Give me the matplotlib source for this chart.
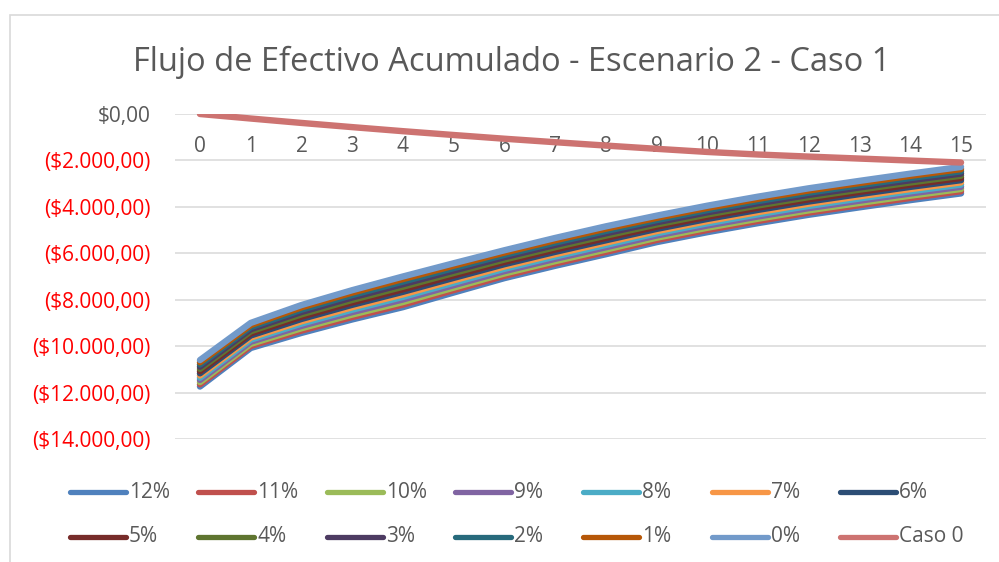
import matplotlib
matplotlib.use("Agg")
import matplotlib.pyplot as plt
from matplotlib.lines import Line2D
from matplotlib.patches import Rectangle
from matplotlib.ticker import FuncFormatter

plt.rcParams['font.family'] = ['Open Sans', 'DejaVu Sans']

# años del proyecto
years = list(range(16))

# flujo acumulado por tasa de descuento
tasa_12 = [-11740, -10080, -9430, -8850, -8320, -7690, -7070, -6540, -6040, -5520, -5090, -4700, -4340, -4020, -3710, -3420]
tasa_11 = [-11645, -9990, -9330, -8745, -8210, -7585, -6970, -6440, -5940, -5425, -4995, -4605, -4245, -3925, -3615, -3325]
tasa_10 = [-11550, -9900, -9230, -8640, -8100, -7480, -6870, -6340, -5840, -5330, -4900, -4510, -4150, -3830, -3520, -3230]
tasa_9 = [-11455, -9810, -9130, -8535, -7990, -7375, -6770, -6240, -5740, -5235, -4805, -4415, -4055, -3735, -3425, -3135]
tasa_8 = [-11360, -9720, -9030, -8430, -7880, -7270, -6670, -6140, -5640, -5140, -4710, -4320, -3960, -3640, -3330, -3040]
tasa_7 = [-11265, -9630, -8930, -8325, -7770, -7165, -6570, -6040, -5540, -5045, -4615, -4225, -3865, -3545, -3235, -2945]
tasa_6 = [-11170, -9540, -8830, -8220, -7660, -7060, -6470, -5940, -5440, -4950, -4520, -4130, -3770, -3450, -3140, -2850]
tasa_5 = [-11075, -9450, -8730, -8115, -7550, -6955, -6370, -5840, -5340, -4855, -4425, -4035, -3675, -3355, -3045, -2755]
tasa_4 = [-10980, -9360, -8630, -8010, -7440, -6850, -6270, -5740, -5240, -4760, -4330, -3940, -3580, -3260, -2950, -2660]
tasa_3 = [-10885, -9270, -8530, -7905, -7330, -6745, -6170, -5640, -5140, -4665, -4235, -3845, -3485, -3165, -2855, -2565]
tasa_2 = [-10790, -9180, -8430, -7800, -7220, -6640, -6070, -5540, -5040, -4570, -4140, -3750, -3390, -3070, -2760, -2470]
tasa_1 = [-10695, -9090, -8330, -7695, -7110, -6535, -5970, -5440, -4940, -4475, -4045, -3655, -3295, -2975, -2665, -2375]
tasa_0 = [-10600, -9000, -8230, -7590, -7000, -6430, -5870, -5340, -4840, -4380, -3950, -3560, -3200, -2880, -2570, -2280]
caso_0 = [0, -195, -385, -565, -740, -905, -1065, -1215, -1360, -1500, -1635, -1745, -1835, -1920, -2005, -2090]

labels = ['12%', '11%', '10%', '9%', '8%', '7%', '6%',
          '5%', '4%', '3%', '2%', '1%', '0%', 'Caso 0']
series = [tasa_12, tasa_11, tasa_10, tasa_9, tasa_8, tasa_7, tasa_6,
          tasa_5, tasa_4, tasa_3, tasa_2, tasa_1, tasa_0, caso_0]
colors = ['#4F81BD', '#C0504D', '#9BBB59', '#8064A2', '#4BACC6', '#F79646', '#2C4D75',
          '#772C2A', '#5F7530', '#4D3B62', '#276A7C', '#B65708', '#729ACA', '#CD7371']

W, H = 999, 562
fig = plt.figure(figsize=(W / 100, H / 100), dpi=100)
ax = fig.add_axes([174.6 / W, 1 - 439 / H, 811.8 / W, 325 / H])

for vals, col in zip(series, colors):
    ax.plot(years, vals, color=col, lw=4.6, solid_capstyle='round', solid_joinstyle='round')

ax.set_xlim(-0.5, 15.5)
ax.set_ylim(-14000, 0)
ax.set_yticks(range(-14000, 1, 2000))
ax.set_xticks(years)
ax.grid(axis='y', color='#D9D9D9', lw=1.1)
ax.set_axisbelow(True)
for s in ['top', 'right', 'left']:
    ax.spines[s].set_visible(False)
ax.spines['bottom'].set_position(('data', 0))
ax.spines['bottom'].set_visible(False)


def money(v, pos):
    txt = '${:,.2f}'.format(abs(v)).replace(',', 'X').replace('.', ',').replace('X', '.')
    return '(' + txt + ')' if v < 0 else txt


ax.yaxis.set_major_formatter(FuncFormatter(money))
ax.tick_params(axis='y', length=0, pad=17, labelsize=15, labelcolor='#595959')
ax.tick_params(axis='x', length=0, pad=16, labelsize=15, labelcolor='#595959')
for t, v in zip(ax.get_yticklabels(), ax.get_yticks()):
    if v < 0:
        t.set_color('#FF0000')

fig.text(512 / W, 1 - 62 / H, 'Flujo de Efectivo Acumulado - Escenario 2 - Caso 1',
         ha='center', va='center', fontsize=23.5, color='#595959')

# leyenda manual en dos filas
for i, (lab, col) in enumerate(zip(labels, colors)):
    row, c = divmod(i, 7)
    x0 = 70 + c * 128.3
    y0 = 492 + row * 45
    fig.add_artist(Line2D([x0 / W, (x0 + 56) / W], [1 - y0 / H, 1 - y0 / H],
                          color=col, lw=3.8, solid_capstyle='round'))
    fig.text((x0 + 59) / W, 1 - y0 / H, lab, ha='left', va='center',
             fontsize=15, color='#595959')

fig.add_artist(Rectangle((10 / W, -0.1), 1.2, 1 - 15 / H + 0.1, transform=fig.transFigure,
                         fill=False, edgecolor='#D9D9D9', lw=1.2))

fig.savefig('out.png', dpi=100)
